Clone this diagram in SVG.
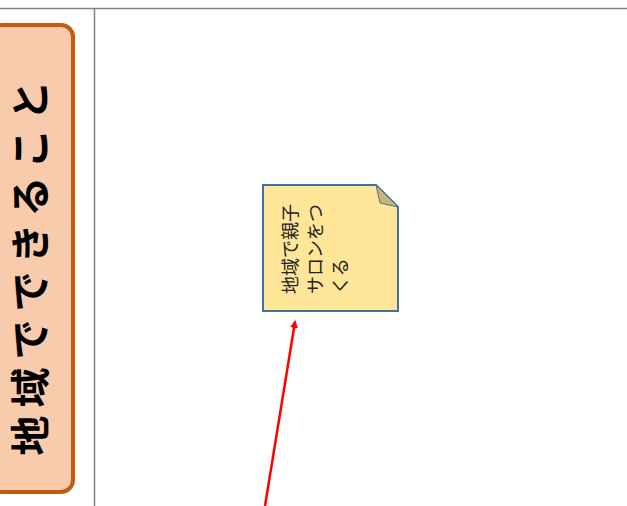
<svg xmlns="http://www.w3.org/2000/svg" width="627" height="506" viewBox="0 0 627 506">
<style>
.frame{stroke:#7f7f7f;stroke-width:1.5;fill:none}
.title{font-family:"Noto Sans CJK JP","Noto Sans",sans-serif;font-weight:bold;font-size:40px;fill:#000}
.note{font-family:"Noto Sans CJK JP","Noto Sans",sans-serif;font-size:18px;fill:#222}
</style>
<defs>
<marker id="ah" markerWidth="8" markerHeight="8" refX="6" refY="4" orient="auto" markerUnits="userSpaceOnUse" viewBox="0 0 8 8">
<path d="M0,0 L8,4 L0,8 z" fill="#ff0000"/>
</marker>
</defs>
<rect width="627" height="506" fill="#fff"/>
<g id="frame">
<line class="frame" x1="0" y1="8.5" x2="627" y2="8.5"/>
<line class="frame" x1="94.5" y1="8" x2="94.5" y2="506"/>
</g>
<g id="panel">
<rect x="-10" y="25" width="83" height="467" rx="12" fill="#f8cbad" stroke="#c55a11" stroke-width="4"/>
<text class="title" transform="translate(45,264) rotate(-90)" text-anchor="middle" letter-spacing="8">地域でできること</text>
</g>
<g id="note">
<path d="M263,185 H376 L398,207 V311 H263 Z" fill="#ffe699" stroke="#41719c" stroke-width="2"/>
<path d="M376,185 L380,203 L398,207 Z" fill="#c9b57e" stroke="#41719c" stroke-width="1"/>
<text class="note" transform="translate(297,294) rotate(-90)">
<tspan x="0" y="0">地域で親子</tspan>
<tspan x="0" y="25">サロンをつ</tspan>
<tspan x="0" y="50">くる</tspan>
</text>
</g>
<g id="connectors">
<line x1="265" y1="506" x2="295" y2="322" stroke="#ff0000" stroke-width="2.5" marker-end="url(#ah)"/>
</g>
</svg>
